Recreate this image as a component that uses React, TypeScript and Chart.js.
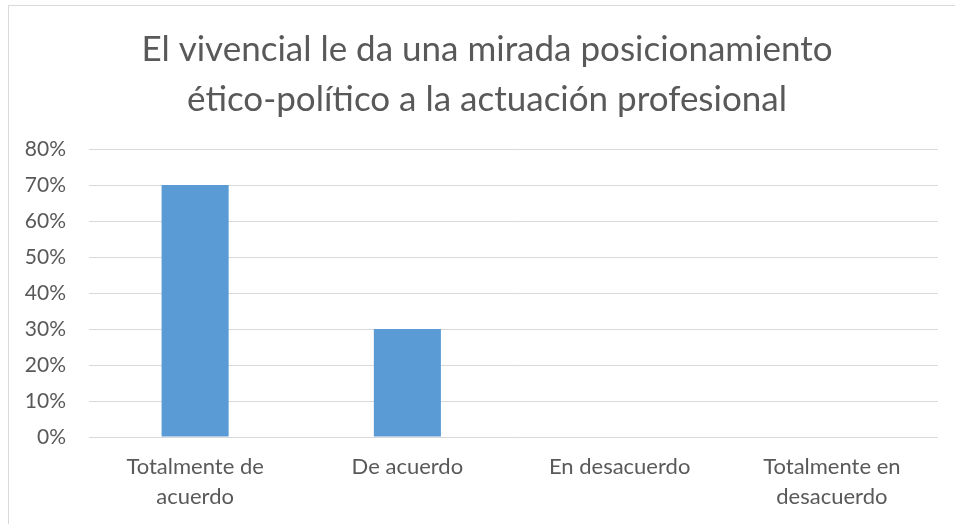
import React, { useEffect, useRef } from "react";
import { Chart, registerables } from "chart.js";

Chart.register(...registerables);

const categories: (string | string[])[] = [
  ["Totalmente de", "acuerdo"],
  "De acuerdo",
  "En desacuerdo",
  ["Totalmente en", "desacuerdo"],
];
const values: number[] = [0.7, 0.3, 0, 0];
const titleLines: string[] = [
  "El vivencial le da una mirada posicionamiento",
  "ético-político a la actuación profesional",
];

const FONT = "Lato, 'Open Sans', sans-serif";
const TEXT = "#595959";

export default function App() {
  const ref = useRef<HTMLCanvasElement | null>(null);

  useEffect(() => {
    document.body.style.margin = "0";
    const canvas = ref.current!;
    const chart = new Chart(canvas, {
      type: "bar",
      data: {
        labels: categories,
        datasets: [
          {
            data: values,
            backgroundColor: "#5B9BD5",
            borderWidth: 0,
            categoryPercentage: 1,
            barPercentage: 0.316,
          },
        ],
      },
      options: {
        animation: false,
        responsive: false,
        maintainAspectRatio: false,
        layout: { padding: { left: 0, right: 0, top: 0, bottom: 15 } },
        plugins: {
          legend: { display: false },
          tooltip: { enabled: false },
          title: {
            display: true,
            text: titleLines,
            color: TEXT,
            font: { family: FONT, size: 35, weight: "normal", lineHeight: 50 / 35 },
            padding: { top: 19, bottom: 24 },
          },
        },
        scales: {
          x: {
            grid: { display: false },
            border: { display: false },
            ticks: {
              color: TEXT,
              font: { family: FONT, size: 22, lineHeight: 30 / 22 },
              padding: 7,
              maxRotation: 0,
              autoSkip: false,
            },
          },
          y: {
            min: 0,
            max: 0.8,
            border: { display: false },
            grid: { color: "#d9d9d9", lineWidth: 1, drawTicks: false },
            afterFit: (scale: any) => {
              scale.width = 80;
            },
            ticks: {
              stepSize: 0.1,
              color: TEXT,
              padding: 23,
              font: { family: FONT, size: 21 },
              callback: (v: any) => Math.round(Number(v) * 100) + "%",
            },
          },
          yRight: {
            position: "right",
            min: 0,
            max: 0.8,
            border: { display: false },
            grid: { display: false },
            ticks: { display: false },
            afterFit: (scale: any) => {
              scale.width = 27;
            },
          },
        },
      },
    });
    return () => chart.destroy();
  }, []);

  return (
    <div style={{ position: "fixed", left: 0, top: 0, width: 955, height: 524, overflow: "hidden", background: "#fff" }}>
      <div
        style={{
          position: "absolute",
          left: 8,
          top: 5,
          width: 958,
          height: 530,
          border: "1px solid #d9d9d9",
          boxSizing: "border-box",
        }}
      >
        <canvas ref={ref} width={956} height={528} style={{ display: "block" }} />
      </div>
    </div>
  );
}
